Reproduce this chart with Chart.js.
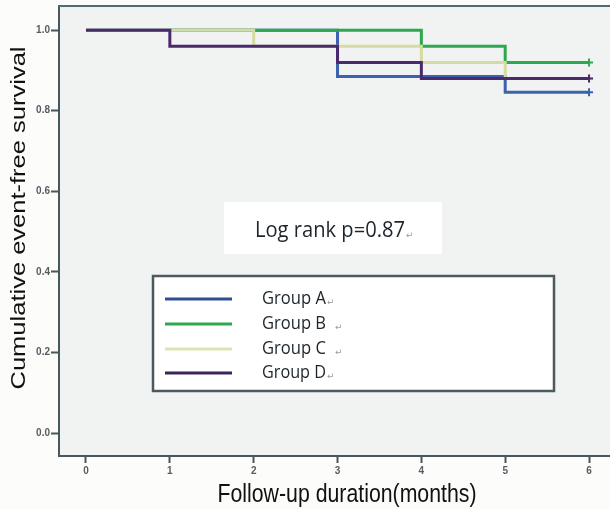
<!DOCTYPE html>
<html>
<head>
<meta charset="utf-8">
<script src="https://cdn.jsdelivr.net/npm/chart.js@4"></script>
<style>
  html, body { margin: 0; padding: 0; background: #fcfcfa; }
  #wrap { width: 610px; height: 509px; }
</style>
</head>
<body>
<div id="wrap"><canvas id="km" width="610" height="509"></canvas></div>
<script>
// ==============Data==============
const months = [0, 1, 2, 3, 4, 5, 6];
const groupA = [1.0, 1.0, 1.0, 0.885, 0.885, 0.846, 0.846];
const groupB = [1.0, 1.0, 1.0, 1.0, 0.96, 0.92, 0.92];
const groupC = [1.0, 1.0, 0.96, 0.96, 0.92, 0.88, 0.88];
const groupD = [1.0, 0.96, 0.96, 0.92, 0.88, 0.88, 0.88];
const groupNames = ["Group A", "Group B", "Group C", "Group D"];
const legendMarks = ["↵", " ↵", " ↵", "↵"];
const yTicks = [0.0, 0.2, 0.4, 0.6, 0.8, 1.0];
const xTicks = [0, 1, 2, 3, 4, 5, 6];
const logRankText = "Log rank p=0.87";

const colors = ["#3c62ad", "#2ea84e", "#d6dba0", "#4a2a6c"];
const legendColors = ["#2f4f93", "#2ea84e", "#dfe3b4", "#3a2458"];
const axisColor = "#46575d";

function toPoints(values) {
  return months.map((m, i) => ({ x: m, y: values[i] }));
}

function make_dataset(label, values, color, order) {
  const last = values.length - 1;
  return {
    label: label,
    data: toPoints(values),
    stepped: true,
    borderColor: color,
    borderWidth: 3,
    fill: false,
    order: order,
    pointStyle: "cross",
    pointRadius: (ctx) => (ctx.dataIndex === last ? 4 : 0),
    pointBorderColor: color,
    pointBorderWidth: 2,
    pointHoverRadius: 0,
  };
}

// squeezed text, width given in px
function fitText(ctx, text, x, y, font, color, width, align) {
  ctx.save();
  ctx.font = font;
  const w = ctx.measureText(text).width;
  const sx = width / w;
  ctx.translate(x, y);
  ctx.scale(sx, 1);
  ctx.fillStyle = color;
  ctx.textAlign = align || "left";
  ctx.textBaseline = "alphabetic";
  ctx.fillText(text, 0, 0);
  ctx.restore();
  return align === "center" ? x + width / 2 : x + width;
}

function drawReturn(ctx, x, y) {
  ctx.save();
  ctx.font = "9px 'DejaVu Sans'";
  ctx.fillStyle = "#9a9a9a";
  ctx.textAlign = "left";
  ctx.fillText("↵", x, y);
  ctx.restore();
}

const decor = {
  id: "decor",
  beforeDraw(chart) {
    const { ctx, chartArea: a } = chart;
    ctx.save();
    ctx.fillStyle = "#fcfcfa";
    ctx.fillRect(0, 0, chart.width, chart.height);
    ctx.fillStyle = "#f1f2f2";
    ctx.fillRect(a.left, a.top, a.right - a.left, a.bottom - a.top);
    ctx.restore();
  },
  afterDraw(chart) {
    const { ctx, chartArea: a } = chart;
    ctx.save();
    // top border of the plot frame
    ctx.strokeStyle = "#4f6b74";
    ctx.lineWidth = 2;
    ctx.beginPath();
    ctx.moveTo(a.left - 1, a.top);
    ctx.lineTo(a.right, a.top);
    ctx.stroke();

    // log rank box
    ctx.fillStyle = "#ffffff";
    ctx.fillRect(224, 202, 218, 52);
    let end = fitText(ctx, logRankText, 255, 237, "21px 'Open Sans'", "#1c252b", 150);
    drawReturn(ctx, end + 1, 238);

    // legend box
    ctx.fillStyle = "#ffffff";
    ctx.fillRect(153, 276, 401, 115);
    ctx.strokeStyle = "#4b5a5e";
    ctx.lineWidth = 2.5;
    ctx.strokeRect(153, 276, 401, 115);

    const rows = [299, 324, 349, 373];
    chart.data.datasets.forEach((ds, i) => {
      const y = rows[i];
      ctx.strokeStyle = legendColors[i];
      ctx.lineWidth = 3;
      ctx.beginPath();
      ctx.moveTo(165, y);
      ctx.lineTo(232, y);
      ctx.stroke();
      const e = fitText(ctx, ds.label, 262, y + 5, "18px 'Open Sans'", "#1c252b", 64);
      drawReturn(ctx, e + (legendMarks[i].length > 1 ? 9 : 1), y + 6);
    });

    // axis titles
    fitText(ctx, "Follow-up duration(months)", 347, 502, "26px 'Liberation Sans'", "#111", 259, "center");

    ctx.save();
    ctx.translate(25, 218);
    ctx.rotate(-Math.PI / 2);
    ctx.scale(1, 0.78);
    ctx.font = "25.5px 'Liberation Sans'";
    ctx.fillStyle = "#111";
    ctx.textAlign = "center";
    ctx.fillText("Cumulative event-free survival", 0, 0);
    ctx.restore();

    ctx.restore();
  },
};

const ctx = document.getElementById("km").getContext("2d");
new Chart(ctx, {
  type: "line",
  data: {
    datasets: [
      make_dataset(groupNames[0], groupA, colors[0], 4),
      make_dataset(groupNames[1], groupB, colors[1], 3),
      make_dataset(groupNames[2], groupC, colors[2], 2),
      make_dataset(groupNames[3], groupD, colors[3], 1),
    ],
  },
  options: {
    responsive: false,
    animation: false,
    devicePixelRatio: 1,
    layout: { autoPadding: false, padding: { top: 6, right: 0, left: 0, bottom: 0 } },
    plugins: { legend: { display: false }, tooltip: { enabled: false } },
    scales: {
      x: {
        type: "linear",
        min: -0.322,
        max: 6.25,
        afterFit: (s) => {
          s.height = 53;
          s.paddingLeft = 0;
          s.paddingRight = 0;
        },
        afterBuildTicks: (s) => { s.ticks = xTicks.map((v) => ({ value: v })); },
        grid: { drawOnChartArea: false, drawTicks: true, tickLength: 7, tickColor: axisColor, tickWidth: 2 },
        border: { display: true, color: axisColor, width: 2 },
        ticks: {
          padding: 2,
          color: "#555d63",
          font: { family: "Liberation Sans", size: 10, weight: "bold" },
          callback: (v) => String(v),
        },
      },
      y: {
        type: "linear",
        min: -0.057,
        max: 1.06,
        afterFit: (s) => {
          s.width = 59;
          s.paddingTop = 0;
          s.paddingBottom = 0;
        },
        afterBuildTicks: (s) => { s.ticks = yTicks.map((v) => ({ value: v })); },
        grid: { drawOnChartArea: false, drawTicks: true, tickLength: 8, tickColor: axisColor, tickWidth: 2 },
        border: { display: true, color: axisColor, width: 2 },
        ticks: {
          padding: 1,
          color: "#555d63",
          font: { family: "Liberation Sans", size: 10, weight: "bold" },
          callback: (v) => v.toFixed(1),
        },
      },
    },
  },
  plugins: [decor],
});
</script>
</body>
</html>
